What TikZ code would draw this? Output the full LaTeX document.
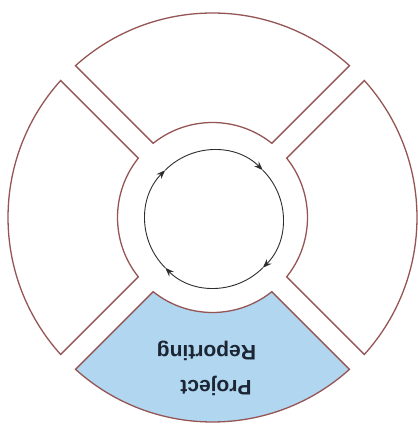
\documentclass[tikz,border=0pt]{standalone}
\usepackage{fontspec}
\setmainfont{Liberation Sans}
\newfontfamily\labsans{Liberation Sans}
\usetikzlibrary{arrows.meta}
\definecolor{segline}{RGB}{150,85,85}
\definecolor{segblue}{RGB}{176,214,240}
\definecolor{txtcol}{RGB}{28,37,51}
\definecolor{circcol}{RGB}{45,45,45}
\tikzset{
  segment/.style={draw=segline, line width=1.3pt, line join=miter},
  label180/.style={rotate=180, anchor=base, text=txtcol, font=\labsans\fontsize{21}{25}\selectfont\bfseries, inner sep=0pt},
  cyclearc/.style={draw=circcol, line width=0.9pt, -{Stealth[length=9pt,width=6.5pt]}}
}
\newcommand{\Rout}{204.5}
\newcommand{\Rin}{95}
\newcommand{\Hgap}{10.5}
% segment centred at angle #1
\newcommand{\ringseg}[2]{%
  \pgfmathsetmacro{\ao}{asin(\Hgap/\Rout)}%
  \pgfmathsetmacro{\ai}{asin(\Hgap/\Rin)}%
  \pgfmathsetmacro{\sa}{#1+45-\ao}%
  \pgfmathsetmacro{\ea}{#1-45+\ao}%
  \pgfmathsetmacro{\si}{#1-45+\ai}%
  \pgfmathsetmacro{\ei}{#1+45-\ai}%
  \path[segment,#2] (\sa:\Rout) arc[start angle=\sa, end angle=\ea, radius=\Rout]
    -- (\si:\Rin) arc[start angle=\si, end angle=\ei, radius=\Rin] -- cycle;
}
\begin{document}
\begin{tikzpicture}[x=1pt,y=1pt]
  \useasboundingbox (-212.5,-212.5) rectangle (204.5,217.5);
  \fill[white] (-212.5,-212.5) rectangle (204.5,217.5);
  \coordinate (c) at (0,0);
  \ringseg{90}{fill=white}
  \ringseg{180}{fill=white}
  \ringseg{0}{fill=white}
  \ringseg{270}{fill=segblue}
  % cycle circle
  \coordinate (cc) at (1.5,-1.5);
  \begin{scope}[shift={(cc)}]
    \draw[cyclearc] (135:69) arc[start angle=135, end angle=45, radius=69];
    \draw[cyclearc] (45:69) arc[start angle=45, end angle=-45, radius=69];
    \draw[cyclearc] (-45:69) arc[start angle=-45, end angle=-135, radius=69];
    \draw[cyclearc] (-135:69) arc[start angle=-135, end angle=-225, radius=69];
  \end{scope}
  \node[label180] (rep) at (-6,-127.5) {Reporting};
  \node[label180] (proj) at (3.5,-162.5) {Project};
\end{tikzpicture}
\end{document}
